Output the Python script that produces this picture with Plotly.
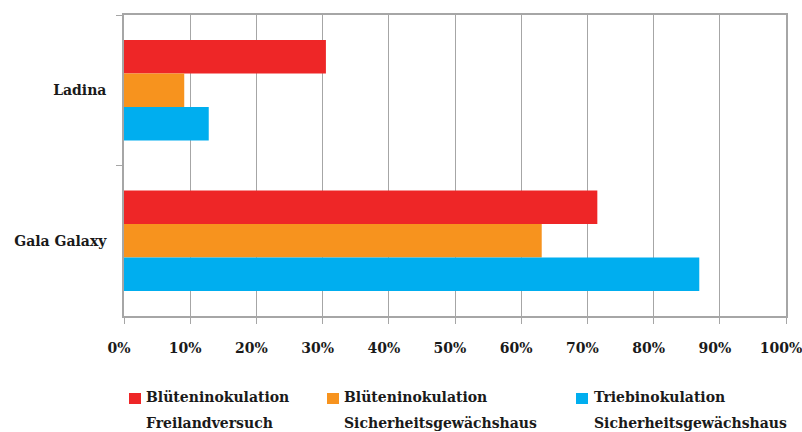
import plotly.graph_objects as go

categories = ["Ladina", "Gala Galaxy"]
legend_line1 = ["Blüteninokulation", "Blüteninokulation", "Triebinokulation"]
legend_line2 = ["Freilandversuch", "Sicherheitsgewächshaus", "Sicherheitsgewächshaus"]
bluete_freiland = [30.5, 71.5]
bluete_gewaechshaus = [9.1, 63.1]
trieb_gewaechshaus = [12.8, 86.9]
colors = ["#EE2627", "#F7931E", "#00AEEF"]

x_ticks = list(range(0, 101, 10))
x_ticklabels = [f"{v}%" for v in x_ticks]

FONT = "DejaVu Serif"
TXT = "#1a1a1a"
GRID = "#a6a6a6"
W, H = 802, 432
L, R, T, B = 124, 16, 15, 116
PW, PH = W - L - R, H - T - B


def px_x(px):
    return (px - L) / PW


def px_y(py):
    return (H - B - py) / PH


fig = go.Figure()
for n1, n2, vals, col in zip(legend_line1, legend_line2,
                             [bluete_freiland, bluete_gewaechshaus, trieb_gewaechshaus],
                             colors):
    fig.add_trace(go.Bar(y=categories, x=vals, name=f"{n1} {n2}", orientation="h",
                         marker=dict(color=col, line=dict(width=0)), showlegend=False))

# legend drawn as squares + text (two lines, wide line spacing as in reference)
marker_x = [129, 327, 576]
text_x = [144, 342, 592]
for i in range(3):
    fig.add_shape(type="rect", xref="paper", yref="paper",
                  x0=px_x(marker_x[i]), x1=px_x(marker_x[i] + 12),
                  y0=px_y(404), y1=px_y(393),
                  fillcolor=colors[i], line=dict(width=0))
    for txt, py in ((legend_line1[i], 397), (legend_line2[i], 423)):
        fig.add_annotation(text=txt, xref="paper", yref="paper",
                           x=px_x(text_x[i]), y=px_y(py),
                           xanchor="left", yanchor="middle", showarrow=False,
                           font=dict(family=FONT, size=14, color=TXT, weight="bold"))

fig.update_layout(
    width=W, height=H,
    margin=dict(l=L, r=R, t=T, b=B, autoexpand=False),
    paper_bgcolor="white", plot_bgcolor="white",
    barmode="group", bargap=0.333, bargroupgap=0,
    font=dict(family=FONT, size=14, color=TXT),
    showlegend=False,
)
fig.update_xaxes(range=[0, 100], tickvals=x_ticks, ticktext=x_ticklabels,
                 showgrid=True, gridcolor=GRID, gridwidth=1,
                 showline=True, linecolor=GRID, linewidth=1.5, mirror=True,
                 ticks="outside", ticklen=6, tickcolor=GRID,
                 ticklabelstandoff=12, ticklabeloverflow="allow", ticklabelshift=-5,
                 tickfont=dict(family=FONT, size=14, weight="bold", color=TXT),
                 zeroline=False, fixedrange=True, automargin=False)
fig.update_yaxes(autorange="reversed", categoryorder="array", categoryarray=categories,
                 showgrid=False, showline=True, linecolor=GRID, linewidth=1.5, mirror=True,
                 ticks="outside", ticklen=6, tickcolor=GRID, tickson="boundaries",
                 ticklabelstandoff=13,
                 tickfont=dict(family=FONT, size=14, weight="bold", color=TXT),
                 fixedrange=True, automargin=False)

fig.write_html("out.html", config={"displayModeBar": False},
               post_script="document.body.style.margin='0';document.body.style.overflow='hidden';")
